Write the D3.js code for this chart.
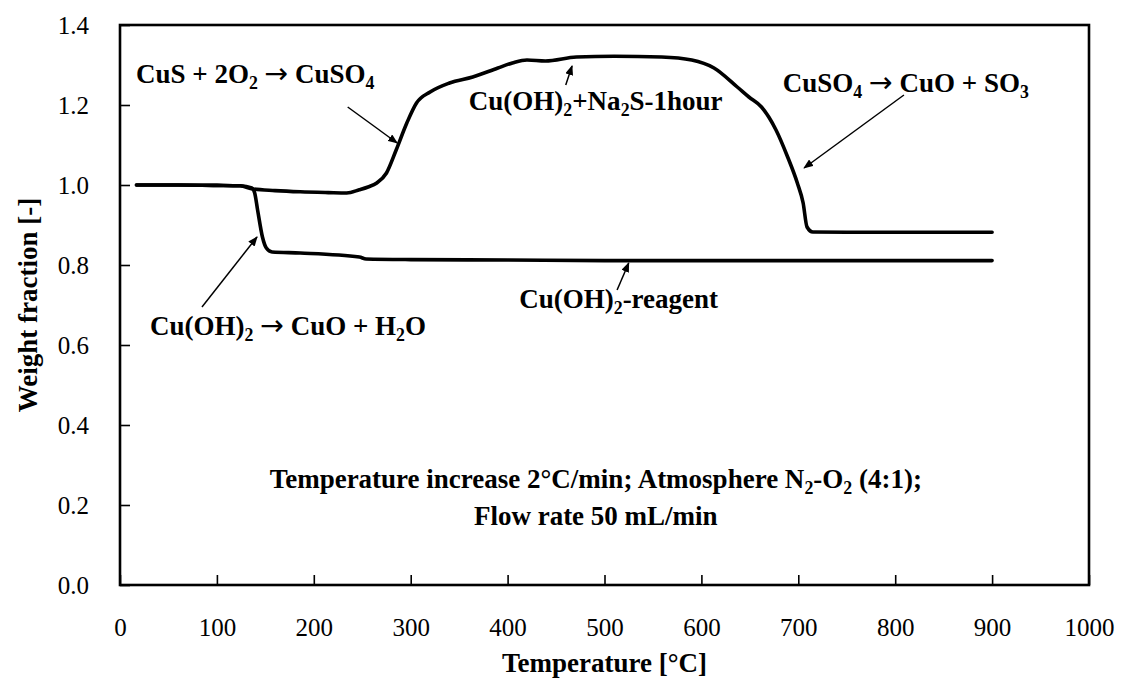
<!DOCTYPE html>
<html>
<head>
<meta charset="utf-8">
<script src="https://cdn.jsdelivr.net/npm/d3@7/dist/d3.min.js"></script>
<style>
  html, body { margin: 0; padding: 0; background: #fff; }
  svg { display: block; font-family: "Liberation Serif", "Times New Roman", serif; }
</style>
</head>
<body>
<svg id="chart" width="1121" height="679"></svg>
<script>
// Thermogravimetric curves: weight fraction vs. temperature
const xTicks = [0, 100, 200, 300, 400, 500, 600, 700, 800, 900, 1000];
const yTicks = [0.0, 0.2, 0.4, 0.6, 0.8, 1.0, 1.2, 1.4];

// Cu(OH)2 + Na2S, 1 hour
const sulfidedTemp = [17, 60, 100, 124, 137, 160, 186, 215, 234, 247, 256, 265, 275, 285, 296, 306, 320, 340, 364, 390, 405, 420, 439, 471, 510, 559, 590, 613, 637, 649, 662, 677, 689, 699, 705, 709, 715, 750, 800, 850, 900];
const sulfidedWeight = [1.0, 1.0, 0.999, 0.998, 0.99, 0.986, 0.983, 0.981, 0.98, 0.988, 0.995, 1.005, 1.03, 1.0875, 1.155, 1.205, 1.2325, 1.255, 1.27, 1.2925, 1.305, 1.3125, 1.31, 1.32, 1.322, 1.32, 1.3125, 1.2925, 1.245, 1.22, 1.195, 1.1375, 1.07, 1.005, 0.955, 0.895, 0.8825, 0.882, 0.882, 0.882, 0.882];

// Cu(OH)2 reagent
const reagentTemp = [17, 60, 100, 124, 136, 139, 142, 147, 151, 157, 186, 247, 254, 300, 400, 500, 600, 700, 800, 900];
const reagentWeight = [1.0, 1.0, 0.999, 0.998, 0.9925, 0.98, 0.9375, 0.87, 0.8425, 0.8325, 0.83, 0.82, 0.815, 0.8135, 0.8125, 0.811, 0.811, 0.811, 0.811, 0.811];

// Annotation texts: [text, kind] where kind 0 = normal, 1 = subscript, 2 = reaction arrow
const labelSulfation = [["CuS + 2O", 0], ["2", 1], [" ", 0], ["\u2192", 2], [" CuSO", 0], ["4", 1]];
const labelSulfided = [["Cu(OH)", 0], ["2", 1], ["+Na", 0], ["2", 1], ["S-1hour", 0]];
const labelDecomp = [["CuSO", 0], ["4", 1], [" ", 0], ["\u2192", 2], [" CuO + SO", 0], ["3", 1]];
const labelDehydr = [["Cu(OH)", 0], ["2", 1], [" ", 0], ["\u2192", 2], [" CuO + H", 0], ["2", 1], ["O", 0]];
const labelReagent = [["Cu(OH)", 0], ["2", 1], ["-reagent", 0]];
const conditionLine1 = [["Temperature increase 2\u00B0C/min; Atmosphere N", 0], ["2", 1], ["-O", 0], ["2", 1], [" (4:1);", 0]];
const conditionLine2 = [["Flow rate 50 mL/min", 0]];

const svg = d3.select("#chart");
const W = 1121, H = 679;
const plot = { left: 120, right: 1089, top: 25, bottom: 585 };

svg.append("rect").attr("width", W).attr("height", H).attr("fill", "#fff");

const x = d3.scaleLinear().domain([0, 1000]).range([plot.left, plot.right]);
const y = d3.scaleLinear().domain([0, 1.4]).range([plot.bottom, plot.top]);

// Axes with inward ticks
const xAxis = svg.append("g")
  .attr("transform", `translate(0,${plot.bottom})`)
  .call(d3.axisBottom(x).tickValues(xTicks).tickFormat(d3.format("d"))
    .tickSizeInner(-10).tickSizeOuter(0).tickPadding(33));
const yAxis = svg.append("g")
  .attr("transform", `translate(${plot.left},0)`)
  .call(d3.axisLeft(y).tickValues(yTicks).tickFormat(d3.format(".1f"))
    .tickSizeInner(-10).tickSizeOuter(0).tickPadding(31));

[xAxis, yAxis].forEach(g => {
  g.select(".domain").remove();
  g.attr("font-family", null).attr("font-size", null);
  g.selectAll(".tick line").attr("stroke", "#000").attr("stroke-width", 1.6);
  g.selectAll(".tick text")
    .attr("fill", "#000")
    .style("font-family", "'Liberation Serif', serif")
    .style("font-size", "25px");
});

// Plot frame
svg.append("rect")
  .attr("x", plot.left).attr("y", plot.top)
  .attr("width", plot.right - plot.left).attr("height", plot.bottom - plot.top)
  .attr("fill", "none").attr("stroke", "#000").attr("stroke-width", 2.6);

// Curves
const line = d3.line()
  .x(d => x(d[0])).y(d => y(d[1]))
  .curve(d3.curveMonotoneX);

const series = [
  d3.zip(reagentTemp, reagentWeight),
  d3.zip(sulfidedTemp, sulfidedWeight)
];
svg.append("g").selectAll("path")
  .data(series).join("path")
  .attr("d", line)
  .attr("fill", "none")
  .attr("stroke", "#000")
  .attr("stroke-width", 3.6)
  .attr("stroke-linejoin", "round")
  .attr("stroke-linecap", "round");

// Arrowhead marker
svg.append("defs").append("marker")
  .attr("id", "head")
  .attr("viewBox", "0 0 10 8")
  .attr("refX", 9).attr("refY", 4)
  .attr("markerWidth", 10).attr("markerHeight", 8)
  .attr("markerUnits", "userSpaceOnUse")
  .attr("orient", "auto")
  .append("path").attr("d", "M0,0 L10,4 L0,8 Z").attr("fill", "#000");

function richText(parts, tx, ty, size, anchor) {
  const t = svg.append("text")
    .attr("x", tx).attr("y", ty)
    .attr("text-anchor", anchor || "start")
    .attr("font-weight", "bold")
    .attr("font-size", size)
    .attr("fill", "#000");
  const subSize = size * 0.66;
  const shift = size * 0.22;
  let shifted = false;
  parts.forEach(([str, kind]) => {
    const sp = t.append("tspan").text(str);
    if (kind === 1) {
      sp.attr("font-size", subSize).attr("dy", shifted ? 0 : shift);
      shifted = true;
      return;
    }
    if (shifted) sp.attr("dy", -shift);
    shifted = false;
    if (kind === 2) {
      sp.attr("font-family", "'DejaVu Sans', sans-serif")
        .attr("font-weight", "normal")
        .attr("font-size", size * 1.05);
    }
  });
  return t;
}

function arrow(t0, w0, t1, w1) {
  svg.append("line")
    .attr("x1", x(t0)).attr("y1", y(w0))
    .attr("x2", x(t1)).attr("y2", y(w1))
    .attr("stroke", "#000").attr("stroke-width", 1.5)
    .attr("marker-end", "url(#head)");
}

const fs = 27;
richText(labelSulfation, x(16.5), y(1.255), fs);
arrow(235, 1.195, 286, 1.105);

richText(labelSulfided, x(360), y(1.1875), fs);
arrow(460, 1.25, 466.5, 1.2975);

richText(labelDecomp, x(684), y(1.2325), fs);
arrow(809, 1.225, 706, 1.0425);

richText(labelDehydr, x(31), y(0.625), fs);
arrow(84.6, 0.695, 141.4, 0.87);

richText(labelReagent, x(412), y(0.6925), fs);
arrow(513, 0.7375, 525, 0.805);

richText(conditionLine1, x(491), y(0.2425), fs, "middle");
richText(conditionLine2, x(491), y(0.15), fs, "middle");

// Axis titles
svg.append("text")
  .attr("x", (plot.left + plot.right) / 2).attr("y", 672)
  .attr("text-anchor", "middle")
  .attr("font-weight", "bold").attr("font-size", 27)
  .text("Temperature [\u00B0C]");

svg.append("text")
  .attr("transform", `translate(37,${(plot.top + plot.bottom) / 2}) rotate(-90)`)
  .attr("text-anchor", "middle")
  .attr("font-weight", "bold").attr("font-size", 27)
  .text("Weight fraction [-]");
</script>
</body>
</html>
